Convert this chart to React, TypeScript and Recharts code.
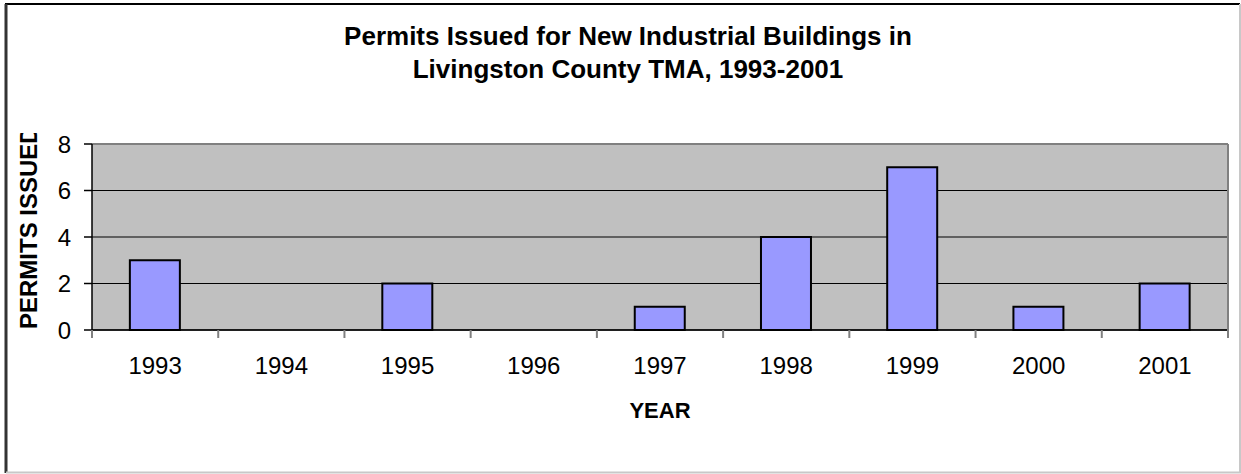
import React from 'react';
import { BarChart, Bar, XAxis, YAxis, CartesianGrid, ReferenceLine } from 'recharts';

const years = ['1993', '1994', '1995', '1996', '1997', '1998', '1999', '2000', '2001'];
const permits = [3, 0, 2, 0, 1, 4, 7, 1, 2];
const yTicks = [0, 2, 4, 6, 8];
const titleLines = ['Permits Issued for New Industrial Buildings in', 'Livingston County TMA, 1993-2001'];
const xTitle = 'YEAR';
const yTitle = 'PERMITS ISSUED';

const data = years.map((y, i) => ({ year: y, permits: permits[i] }));

const FONT = '"Liberation Sans", Arial, sans-serif';
const TICK_MARGIN = 27;

const CategoryTick = (props: any) => {
  const { x, y, payload, index, visibleTicksCount, width } = props;
  const half = width / visibleTicksCount / 2;
  const axisY = y - TICK_MARGIN;
  return (
    <g>
      <line x1={x - half} y1={axisY} x2={x - half} y2={axisY + 8} stroke="#808080" strokeWidth={2} />
      {index === visibleTicksCount - 1 && (
        <line x1={x + half} y1={axisY} x2={x + half} y2={axisY + 8} stroke="#808080" strokeWidth={2} />
      )}
      <text x={x} y={y} dy="0.71em" textAnchor="middle" fontFamily={FONT} fontSize={24} fill="#000">
        {payload.value}
      </text>
    </g>
  );
};

export default function App() {
  return (
    <div style={{ position: 'absolute', left: 0, top: 0, width: 1241, height: 474, background: '#fff' }}>
      <BarChart
        width={1241}
        height={474}
        data={data}
        margin={{ top: 144, right: 13, bottom: 84, left: 0 }}
        barCategoryGap="30%"
      >
        <CartesianGrid fill="#C0C0C0" stroke="#000" vertical={false} />
        <XAxis
          dataKey="year"
          height={60}
          axisLine={{ stroke: '#000', strokeWidth: 1.5 }}
          tickLine={false}
          tickSize={0}
          tickMargin={TICK_MARGIN}
          interval={0}
          tick={CategoryTick}
        />
        <YAxis
          domain={[0, 8]}
          ticks={yTicks}
          width={92}
          interval={0}
          tickSize={8}
          tickMargin={13}
          axisLine={{ stroke: '#000', strokeWidth: 1.5 }}
          tickLine={{ stroke: '#000', strokeWidth: 1.5 }}
          tick={{ fill: '#000', fontSize: 24, fontFamily: FONT }}
        />
        <ReferenceLine y={8} stroke="#808080" strokeWidth={2} />
        <Bar dataKey="permits" fill="#9999FF" stroke="#000" strokeWidth={2} isAnimationActive={false} />
      </BarChart>
      <svg
        width={1241}
        height={474}
        style={{ position: 'absolute', left: 0, top: 0, pointerEvents: 'none' }}
      >
        <defs>
          <clipPath id="yTitleClip">
            <rect x={0} y={133} width={90} height={341} />
          </clipPath>
        </defs>
        <line x1={1228} y1={144} x2={1228} y2={330} stroke="#808080" strokeWidth={2} />
        <line x1={5} y1={4} x2={1240} y2={4} stroke="#000" strokeWidth={2} />
        <line x1={6} y1={4} x2={6} y2={473} stroke="#333" strokeWidth={3} />
        <line x1={6} y1={472.5} x2={1241} y2={472.5} stroke="#C8C8C8" strokeWidth={2} />
        <line x1={1240} y1={4} x2={1240} y2={473} stroke="#C8C8C8" strokeWidth={2} />
        <text x={628} y={45} textAnchor="middle" fontFamily={FONT} fontWeight="bold" fontSize={26} fill="#000">
          {titleLines[0]}
        </text>
        <text x={628} y={78} textAnchor="middle" fontFamily={FONT} fontWeight="bold" fontSize={26} fill="#000">
          {titleLines[1]}
        </text>
        <text x={660} y={418} textAnchor="middle" fontFamily={FONT} fontWeight="bold" fontSize={22} fill="#000">
          {xTitle}
        </text>
        <g clipPath="url(#yTitleClip)">
          <text
            transform="translate(37,329) rotate(-90)"
            textAnchor="start"
            fontFamily={FONT}
            fontWeight="bold"
            fontSize={24}
            fill="#000"
          >
            {yTitle}
          </text>
        </g>
      </svg>
    </div>
  );
}
